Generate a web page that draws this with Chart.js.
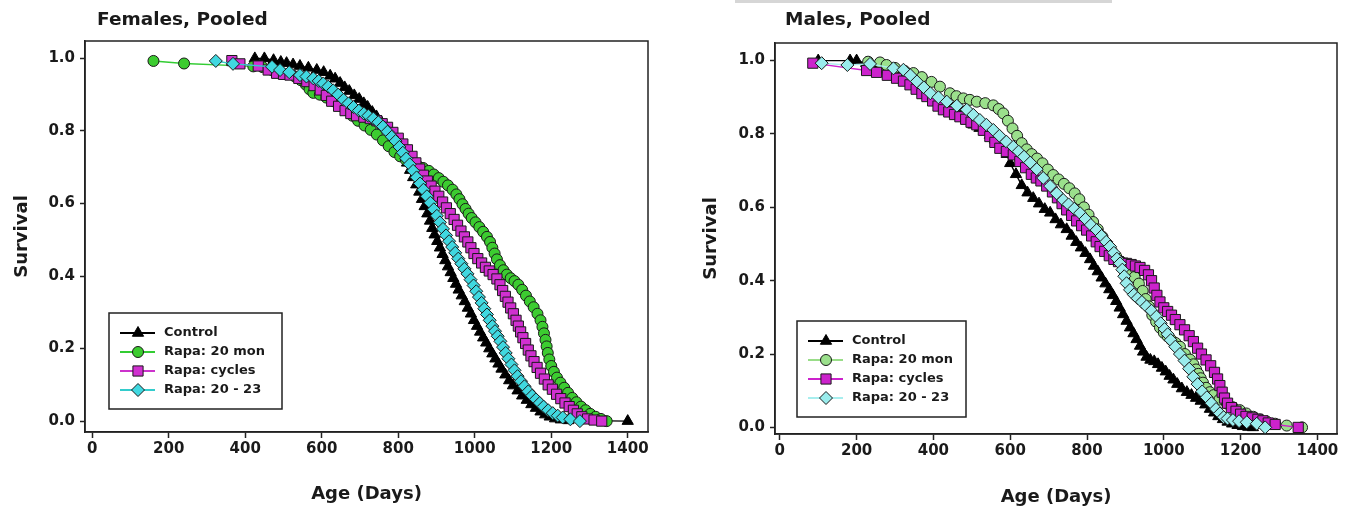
<!DOCTYPE html>
<html>
<head>
<meta charset="utf-8">
<script src="https://cdn.jsdelivr.net/npm/chart.js@4.4.1/dist/chart.umd.min.js"></script>
<style>
  body { margin: 0; background: #fff; width: 1352px; height: 510px; overflow: hidden; position: relative; }
  .panel { position: absolute; top: 0; width: 676px; height: 510px; }
  #topBar { position: absolute; left: 735px; top: 0; width: 377px; height: 3px; background: #d6d6d6; }
</style>
</head>
<body>
<div class="panel" style="left:0"><canvas id="femChart"></canvas></div>
<div class="panel" style="left:676px"><canvas id="maleChart"></canvas></div>
<div id="topBar"></div>
<script>
// series names and axis ticks
const seriesLabels = ['Control', 'Rapa: 20 mon', 'Rapa: cycles', 'Rapa: 20 - 23'];
const xTicks = [0, 200, 400, 600, 800, 1000, 1200, 1400];
const yTicks = [0, 0.2, 0.4, 0.6, 0.8, 1.0];

// Females, pooled: [age in days, survival]
const femControl = [[425,1.0],[450,1.0],[474,0.995],[493,0.99],[508,0.987],[525,0.983],[543,0.979],[565,0.974],[587,0.968],[605,0.962],[622,0.952],[635,0.944],[648,0.932],[660,0.92],[672,0.91],[685,0.898],[698,0.888],[710,0.876],[720,0.866],[732,0.852],[743,0.84],[755,0.826],[766,0.81],[777,0.795],[787,0.782],[797,0.765],[806,0.748],[815,0.73],[823,0.712],[831,0.692],[839,0.672],[847,0.652],[855,0.632],[862,0.612],[869,0.592],[876,0.572],[883,0.552],[889,0.532],[895,0.514],[902,0.496],[909,0.478],[916,0.46],[923,0.443],[930,0.426],[937,0.41],[944,0.394],[951,0.378],[958,0.362],[966,0.346],[974,0.33],[982,0.312],[990,0.296],[998,0.278],[1006,0.262],[1014,0.246],[1022,0.23],[1030,0.216],[1038,0.2],[1046,0.186],[1054,0.172],[1062,0.158],[1070,0.144],[1080,0.128],[1090,0.112],[1100,0.098],[1112,0.084],[1124,0.07],[1136,0.058],[1148,0.046],[1160,0.036],[1172,0.026],[1184,0.018],[1196,0.012],[1210,0.007],[1225,0.004],[1245,0.002],[1400,0.0]];
const fem20mon = [[160,0.993],[240,0.986],[421,0.978],[445,0.976],[470,0.968],[492,0.962],[512,0.957],[530,0.95],[545,0.94],[558,0.928],[568,0.915],[578,0.905],[595,0.9],[612,0.892],[630,0.882],[648,0.87],[664,0.858],[680,0.842],[695,0.828],[712,0.815],[728,0.803],[744,0.79],[760,0.774],[775,0.758],[790,0.742],[805,0.73],[820,0.72],[835,0.712],[850,0.705],[865,0.698],[880,0.69],[893,0.68],[906,0.67],[918,0.66],[930,0.65],[942,0.638],[952,0.625],[960,0.612],[968,0.598],[976,0.585],[984,0.572],[992,0.56],[1002,0.548],[1012,0.535],[1022,0.522],[1032,0.508],[1040,0.494],[1046,0.478],[1052,0.462],[1058,0.446],[1066,0.43],[1075,0.416],[1084,0.404],[1094,0.394],[1104,0.386],[1114,0.376],[1124,0.362],[1134,0.346],[1144,0.33],[1154,0.314],[1164,0.296],[1172,0.278],[1177,0.26],[1181,0.242],[1185,0.224],[1188,0.206],[1191,0.188],[1195,0.17],[1200,0.152],[1207,0.136],[1215,0.12],[1224,0.106],[1234,0.092],[1244,0.078],[1255,0.064],[1266,0.052],[1278,0.04],[1290,0.03],[1302,0.02],[1316,0.012],[1330,0.006],[1345,0.0]];
const femCycles = [[365,0.994],[386,0.985],[434,0.979],[460,0.968],[482,0.959],[500,0.956],[517,0.954],[540,0.945],[561,0.936],[580,0.925],[596,0.913],[612,0.898],[626,0.882],[644,0.868],[661,0.856],[676,0.848],[691,0.842],[710,0.838],[727,0.834],[744,0.828],[758,0.82],[772,0.81],[786,0.796],[800,0.78],[812,0.764],[824,0.748],[836,0.73],[846,0.712],[856,0.695],[866,0.678],[876,0.662],[886,0.648],[896,0.634],[906,0.62],[916,0.604],[926,0.588],[936,0.572],[946,0.556],[955,0.54],[964,0.524],[973,0.508],[982,0.494],[990,0.478],[998,0.462],[1008,0.448],[1018,0.436],[1028,0.424],[1038,0.414],[1048,0.404],[1058,0.392],[1066,0.376],[1073,0.36],[1080,0.344],[1087,0.328],[1094,0.312],[1101,0.296],[1108,0.278],[1114,0.262],[1120,0.246],[1126,0.23],[1133,0.214],[1140,0.196],[1147,0.18],[1155,0.164],[1163,0.148],[1172,0.132],[1182,0.116],[1192,0.1],[1203,0.088],[1214,0.074],[1225,0.062],[1236,0.05],[1247,0.04],[1258,0.03],[1268,0.02],[1280,0.012],[1295,0.006],[1312,0.003],[1332,0.0]];
const fem2023 = [[323,0.993],[368,0.985],[470,0.977],[491,0.968],[515,0.962],[543,0.954],[560,0.95],[578,0.945],[592,0.938],[604,0.931],[617,0.922],[630,0.912],[643,0.9],[657,0.886],[670,0.876],[683,0.866],[697,0.856],[710,0.848],[722,0.842],[735,0.834],[748,0.824],[760,0.812],[772,0.798],[783,0.784],[793,0.772],[803,0.756],[812,0.74],[821,0.724],[830,0.708],[839,0.69],[848,0.672],[857,0.655],[866,0.638],[875,0.62],[884,0.602],[893,0.584],[901,0.566],[909,0.548],[917,0.53],[925,0.512],[933,0.496],[941,0.48],[949,0.464],[957,0.448],[965,0.434],[973,0.42],[981,0.406],[989,0.39],[997,0.374],[1004,0.358],[1011,0.342],[1018,0.326],[1025,0.31],[1032,0.294],[1039,0.278],[1046,0.262],[1053,0.248],[1060,0.234],[1067,0.22],[1074,0.204],[1081,0.188],[1088,0.172],[1096,0.156],[1104,0.14],[1112,0.124],[1121,0.11],[1130,0.096],[1140,0.082],[1150,0.07],[1160,0.06],[1170,0.05],[1180,0.04],[1192,0.03],[1204,0.022],[1217,0.015],[1230,0.01],[1250,0.005],[1275,0.0]];

// Males, pooled: [age in days, survival]
const maleControl = [[100,1.0],[183,1.0],[200,1.0],[225,0.993],[250,0.985],[278,0.975],[300,0.966],[322,0.956],[344,0.943],[365,0.929],[383,0.913],[400,0.897],[418,0.886],[435,0.873],[452,0.861],[470,0.849],[487,0.837],[504,0.825],[520,0.816],[534,0.807],[547,0.797],[560,0.784],[572,0.772],[582,0.76],[591,0.745],[600,0.72],[615,0.69],[630,0.66],[645,0.64],[660,0.625],[675,0.61],[690,0.595],[704,0.585],[718,0.567],[732,0.553],[747,0.54],[760,0.522],[772,0.505],[784,0.49],[796,0.475],[808,0.458],[818,0.44],[828,0.425],[838,0.408],[848,0.392],[858,0.376],[867,0.36],[876,0.344],[885,0.326],[894,0.308],[903,0.29],[912,0.272],[921,0.256],[929,0.24],[938,0.222],[946,0.206],[955,0.192],[965,0.184],[975,0.18],[985,0.172],[995,0.162],[1005,0.152],[1015,0.14],[1025,0.13],[1035,0.118],[1047,0.106],[1060,0.096],[1072,0.088],[1084,0.08],[1096,0.072],[1108,0.062],[1120,0.05],[1131,0.04],[1142,0.03],[1154,0.022],[1166,0.015],[1178,0.01],[1192,0.006],[1206,0.003],[1220,0.001],[1232,0.0]];
const male20mon = [[230,0.997],[261,0.995],[278,0.988],[300,0.98],[325,0.972],[348,0.966],[370,0.955],[395,0.942],[417,0.929],[443,0.911],[460,0.903],[478,0.897],[495,0.893],[513,0.888],[535,0.884],[556,0.878],[570,0.868],[582,0.856],[594,0.836],[606,0.815],[618,0.795],[630,0.775],[643,0.758],[656,0.745],[670,0.733],[684,0.72],[698,0.703],[712,0.688],[726,0.676],[740,0.664],[754,0.652],[768,0.638],[780,0.622],[792,0.6],[804,0.58],[816,0.56],[828,0.54],[840,0.52],[852,0.5],[864,0.482],[876,0.466],[888,0.452],[900,0.438],[912,0.424],[924,0.41],[935,0.392],[945,0.372],[953,0.35],[961,0.33],[970,0.306],[980,0.288],[990,0.272],[1000,0.258],[1010,0.248],[1020,0.238],[1031,0.23],[1042,0.22],[1055,0.2],[1068,0.185],[1077,0.172],[1084,0.158],[1090,0.146],[1096,0.134],[1102,0.122],[1110,0.108],[1120,0.096],[1130,0.088],[1145,0.076],[1164,0.065],[1180,0.055],[1198,0.047],[1215,0.038],[1233,0.029],[1250,0.022],[1268,0.016],[1290,0.01],[1320,0.005],[1360,0.0]];
const maleCycles = [[86,0.993],[226,0.973],[252,0.968],[280,0.96],[304,0.952],[322,0.944],[339,0.934],[355,0.922],[370,0.91],[383,0.902],[398,0.89],[412,0.876],[426,0.866],[440,0.86],[455,0.853],[469,0.847],[484,0.84],[498,0.832],[513,0.825],[530,0.81],[547,0.793],[560,0.777],[573,0.761],[590,0.752],[608,0.743],[625,0.725],[640,0.708],[655,0.69],[668,0.68],[680,0.672],[695,0.658],[710,0.642],[723,0.626],[735,0.61],[747,0.593],[760,0.578],[773,0.563],[786,0.55],[799,0.538],[812,0.522],[824,0.506],[834,0.493],[846,0.48],[858,0.468],[870,0.458],[882,0.452],[893,0.448],[903,0.447],[915,0.444],[926,0.44],[938,0.436],[950,0.428],[960,0.416],[968,0.4],[975,0.38],[982,0.36],[990,0.342],[1000,0.326],[1010,0.316],[1020,0.306],[1030,0.294],[1042,0.28],[1054,0.266],[1066,0.25],[1077,0.234],[1088,0.216],[1098,0.2],[1110,0.184],[1122,0.168],[1132,0.15],[1140,0.132],[1146,0.114],[1152,0.096],[1158,0.08],[1166,0.066],[1176,0.054],[1188,0.044],[1200,0.036],[1214,0.03],[1230,0.026],[1245,0.022],[1258,0.018],[1272,0.012],[1290,0.008],[1350,0.0]];
const male2023 = [[109,0.993],[176,0.988],[235,0.991],[296,0.979],[322,0.975],[340,0.96],[357,0.943],[375,0.927],[392,0.911],[413,0.9],[435,0.888],[461,0.877],[487,0.866],[504,0.852],[521,0.838],[538,0.825],[556,0.811],[572,0.795],[590,0.779],[608,0.765],[622,0.752],[636,0.738],[652,0.722],[669,0.704],[686,0.68],[704,0.658],[721,0.638],[738,0.62],[752,0.608],[767,0.596],[782,0.584],[796,0.568],[810,0.552],[825,0.538],[838,0.522],[850,0.506],[860,0.493],[870,0.476],[878,0.46],[886,0.447],[892,0.43],[897,0.412],[903,0.393],[912,0.375],[922,0.362],[932,0.352],[943,0.342],[955,0.33],[968,0.318],[981,0.302],[992,0.284],[1002,0.268],[1010,0.254],[1018,0.238],[1030,0.22],[1042,0.2],[1054,0.182],[1066,0.16],[1077,0.138],[1088,0.118],[1100,0.098],[1112,0.082],[1124,0.066],[1136,0.05],[1146,0.038],[1156,0.028],[1166,0.024],[1180,0.02],[1196,0.017],[1216,0.014],[1242,0.01],[1264,0.0]];

const FONT = "'DejaVu Sans', 'Liberation Sans', Arial, sans-serif";
const INK = '#1a1a1a';

// frame round the plot area (top and right edges as in the original)
const framePlugin = {
    id: 'frame',
    beforeDatasetsDraw(chart) {
        const { ctx, chartArea: a } = chart;
        ctx.save();
        ctx.strokeStyle = '#222';
        ctx.lineWidth = 1.5;
        ctx.strokeRect(a.left, a.top, a.right - a.left, a.bottom - a.top);
        ctx.restore();
    }
};

// panel title drawn top-left
const panelTitlePlugin = {
    id: 'panelTitle',
    afterDraw(chart, args, opts) {
        const ctx = chart.ctx;
        ctx.save();
        ctx.font = 'bold 18.5px ' + FONT;
        ctx.fillStyle = INK;
        ctx.textBaseline = 'middle';
        ctx.textAlign = 'left';
        ctx.fillText(opts.text, opts.x, opts.y);
        ctx.restore();
    }
};

function drawMarker(ctx, ds, x, y) {
    ctx.fillStyle = ds.pointBackgroundColor;
    ctx.strokeStyle = ds.pointBorderColor;
    ctx.lineWidth = ds.pointBorderWidth;
    if (Chart.helpers && Chart.helpers.drawPoint) {
        Chart.helpers.drawPoint(ctx, { pointStyle: ds.pointStyle, radius: ds.pointRadius, borderWidth: ds.pointBorderWidth, rotation: 0 }, x, y);
    }
}

// boxed legend inside the plot, line + marker + text
const boxLegendPlugin = {
    id: 'boxLegend',
    afterDatasetsDraw(chart, args, opts) {
        const { ctx, chartArea: a } = chart;
        const bx = a.left + opts.dx, by = a.top + opts.dy;
        ctx.save();
        ctx.fillStyle = '#fff';
        ctx.fillRect(bx, by, opts.w, opts.h);
        ctx.strokeStyle = '#222';
        ctx.lineWidth = 1.5;
        ctx.strokeRect(bx, by, opts.w, opts.h);
        ctx.font = 'bold 13px ' + FONT;
        ctx.textBaseline = 'middle';
        chart.data.datasets.forEach((ds, i) => {
            const y = by + 20 + i * 19;
            ctx.strokeStyle = ds.borderColor;
            ctx.lineWidth = 2;
            ctx.beginPath();
            ctx.moveTo(bx + 11, y);
            ctx.lineTo(bx + 46, y);
            ctx.stroke();
            drawMarker(ctx, ds, bx + 29, y);
            ctx.fillStyle = INK;
            ctx.fillText(ds.label, bx + 55, y);
        });
        ctx.restore();
    }
};

function makeSeries(label, points, lineColor, fill, style, radius, order) {
    return {
        label: label,
        data: points.map(p => ({ x: p[0], y: p[1] })),
        borderColor: lineColor,
        borderWidth: 1.4,
        pointStyle: style,
        pointRadius: radius,
        pointBackgroundColor: fill,
        pointBorderColor: style === 'triangle' ? '#000' : INK,
        pointBorderWidth: 1,
        tension: 0,
        order: order
    };
}

function makeChart(id, cfg) {
    const ctx = document.getElementById(id).getContext('2d');
    return new Chart(ctx, {
        type: 'line',
        data: { datasets: cfg.datasets },
        options: {
            responsive: true,
            maintainAspectRatio: false,
            animation: false,
            layout: { padding: { left: 0, top: cfg.top, right: cfg.right, bottom: 0 } },
            plugins: {
                legend: { display: false },
                tooltip: { enabled: false },
                panelTitle: cfg.title,
                boxLegend: cfg.legend
            },
            scales: {
                x: {
                    type: 'linear',
                    min: cfg.xMin, max: cfg.xMax,
                    afterBuildTicks: s => { s.ticks = xTicks.map(v => ({ value: v })); },
                    afterFit: s => { s.height = cfg.xAxisHeight; },
                    grid: { display: true, drawOnChartArea: false, drawTicks: true, tickLength: 6, tickWidth: 1.5, tickColor: '#222' },
                    border: { display: true, color: '#222', width: 1.5 },
                    ticks: { color: INK, padding: 2, maxRotation: 0, font: { family: FONT, size: 15, weight: 'bold' }, callback: v => String(v) },
                    title: { display: true, text: 'Age (Days)', color: INK, padding: { top: 0, bottom: cfg.xTitlePad }, font: { family: FONT, size: 18, weight: 'bold' } }
                },
                y: {
                    type: 'linear',
                    min: cfg.yMin, max: 1.048,
                    afterBuildTicks: s => { s.ticks = yTicks.map(v => ({ value: v })); },
                    afterFit: s => { s.width = cfg.yAxisWidth; },
                    grid: { display: true, drawOnChartArea: false, drawTicks: true, tickLength: 5, tickWidth: 1.5, tickColor: '#222' },
                    border: { display: true, color: '#222', width: 1.5 },
                    ticks: { color: INK, padding: 5, font: { family: FONT, size: 15, weight: 'bold' }, callback: v => v.toFixed(1) },
                    title: { display: true, text: 'Survival', color: INK, padding: { top: cfg.yTitlePad, bottom: 0 }, font: { family: FONT, size: 18, weight: 'bold' } }
                }
            }
        },
        plugins: [framePlugin, panelTitlePlugin, boxLegendPlugin]
    });
}

makeChart('femChart', {
    datasets: [
        makeSeries(seriesLabels[0], femControl, '#000000', '#000000', 'triangle', 6.5, 4),
        makeSeries(seriesLabels[1], fem20mon, '#33cc33', '#3ccc30', 'circle', 5.5, 3),
        makeSeries(seriesLabels[2], femCycles, '#cc33cc', '#d030d0', 'rect', 7.2, 2),
        makeSeries(seriesLabels[3], fem2023, '#33cccc', '#40d8e0', 'rectRot', 6.5, 1)
    ],
    top: 41, right: 28, xAxisHeight: 78, yAxisWidth: 85,
    xMin: -19, xMax: 1453, yMin: -0.03,
    xTitlePad: 5, yTitlePad: 12,
    title: { text: 'Females, Pooled', x: 97, y: 20 },
    legend: { dx: 24, dy: 272, w: 173, h: 96 }
});

makeChart('maleChart', {
    datasets: [
        makeSeries(seriesLabels[0], maleControl, '#000000', '#000000', 'triangle', 6.5, 4),
        makeSeries(seriesLabels[1], male20mon, '#99dd88', '#9be08c', 'circle', 5.5, 3),
        makeSeries(seriesLabels[2], maleCycles, '#cc22cc', '#cc22cc', 'rect', 7.2, 2),
        makeSeries(seriesLabels[3], male2023, '#a8eeee', '#99ecec', 'rectRot', 6.5, 1)
    ],
    top: 43, right: 15, xAxisHeight: 76, yAxisWidth: 99,
    xMin: -12.5, xMax: 1451, yMin: -0.018,
    xTitlePad: 2, yTitlePad: 25,
    title: { text: 'Males, Pooled', x: 109, y: 20 },
    legend: { dx: 22, dy: 278, w: 169, h: 96 }
});
</script>
</body>
</html>
